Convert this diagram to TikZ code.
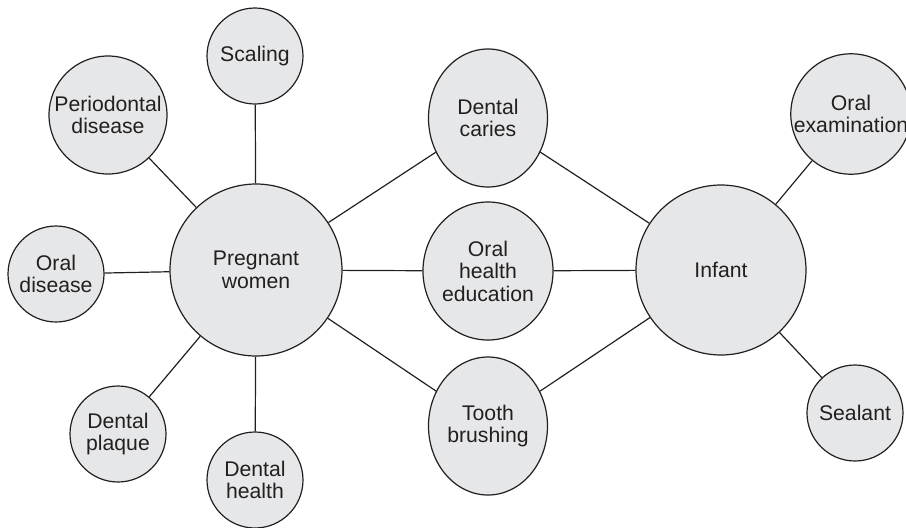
\documentclass[tikz,border=0pt]{standalone}
\usepackage{fontspec}
\setmainfont{Liberation Sans}
\usetikzlibrary{shapes.geometric}
\definecolor{edgec}{HTML}{231F20}
\definecolor{fillc}{HTML}{E6E7E8}
\tikzset{
  bubble/.style={circle, draw=edgec, fill=fillc, line width=1.2pt, inner sep=0pt,
    align=center, text=edgec, font=\fontsize{21.2}{22.5}\selectfont},
  oval/.style={ellipse, draw=edgec, fill=fillc, line width=1.2pt, inner sep=0pt,
    align=center, text=edgec, font=\fontsize{21.2}{22.5}\selectfont,
    minimum width=119pt, minimum height=138pt},
  link/.style={draw=edgec, line width=1.2pt}
}
\begin{document}
\begin{tikzpicture}[x=1pt,y=-1pt]
\useasboundingbox (0,0) rectangle (906,528);
\clip (0,0) rectangle (906,528);
\node[bubble, minimum size=172pt] (pw) at (256,270) {Pregnant\\women};
\node[bubble, minimum size=170pt] (inf) at (721,270) {Infant};
\node[bubble, minimum size=96pt] (sc) at (255,56) {Scaling};
\node[bubble, minimum size=118pt] (pd) at (108,115) {Periodontal\\disease};
\node[bubble, minimum size=96pt] (od) at (56,274) {Oral\\disease};
\node[bubble, minimum size=96pt] (dp) at (118,434) {Dental\\plaque};
\node[bubble, minimum size=96pt] (dh) at (255,480) {Dental\\health};
\node[oval] (dc) at (488,118) {Dental\\caries};
\node[oval] (ohe) at (488,271) {Oral\\health\\education};
\node[oval] (tb) at (488,426) {Tooth\\brushing};
\node[bubble, minimum size=120pt] (oe) at (851,114) {Oral\\examination};
\node[bubble, minimum size=96pt] (se) at (855,413) {Sealant};
\draw[link] (pw) -- (sc);
\draw[link] (pw) -- (pd);
\draw[link] (pw) -- (od);
\draw[link] (pw) -- (dp);
\draw[link] (pw) -- (dh);
\draw[link] (pw) -- (dc);
\draw[link] (pw) -- (ohe);
\draw[link] (pw) -- (tb);
\draw[link] (inf) -- (dc);
\draw[link] (inf) -- (ohe);
\draw[link] (inf) -- (tb);
\draw[link] (inf) -- (oe);
\draw[link] (inf) -- (se);
\end{tikzpicture}
\end{document}
